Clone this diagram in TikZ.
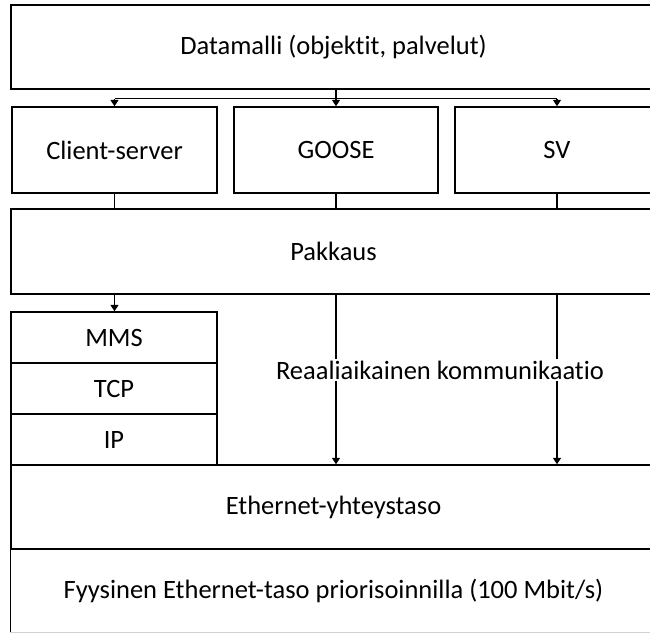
\documentclass[tikz,border=0pt]{standalone}
\usepackage{fontspec}
\setmainfont{Carlito}[RawFeature={-liga}]
\usetikzlibrary{arrows.meta}
\begin{document}
\begin{tikzpicture}[x=1bp,y=-1bp,
  layer/.style={draw=black, line width=1.4bp, inner sep=0pt, font=\fontsize{26.5bp}{30bp}\selectfont, text=black},
  conn/.style={draw=black, line width=1.4bp},
  arr/.style={conn, -{Triangle[length=6.5bp,width=8bp]}},
  lbl/.style={fill=white, inner sep=2bp, font=\fontsize{26.5bp}{30bp}\selectfont, text=black}]
\useasboundingbox (0,0) rectangle (650,635);
\clip (0,0) rectangle (650,635);
\fill[white] (0,0) rectangle (650,635);
% layers
\node[layer, minimum width=645bp, minimum height=84bp] (data) at (333.5,47) {Datamalli (objektit, palvelut)};
\node[layer, minimum width=205bp, minimum height=86bp] (cs) at (114.5,150) {Client-server};
\node[layer, minimum width=204bp, minimum height=86bp] (goose) at (336,150) {GOOSE};
\node[layer, minimum width=204bp, minimum height=86bp] (sv) at (557,150) {SV};
\node[layer, minimum width=645bp, minimum height=85bp] (pak) at (333.5,251.5) {Pakkaus};
\node[layer, minimum width=206bp, minimum height=51bp] (mms) at (114,337.5) {MMS};
\node[layer, minimum width=206bp, minimum height=51bp] (tcp) at (114,388.5) {TCP};
\node[layer, minimum width=206bp, minimum height=51bp] (ip) at (114,439.5) {IP};
\node[layer, minimum width=645bp, minimum height=84bp] (eth) at (333.5,507) {Ethernet-yhteystaso};
\node[layer, draw=none, minimum width=645bp, minimum height=83bp] (fys) at (333.5,590.5) {Fyysinen Ethernet-taso priorisoinnilla (100 Mbit/s)};
\draw[conn] (fys.north west) -- (fys.south west);
\draw[draw=black!18, line width=1.2bp] (fys.south west) -- (fys.south east);
% connectors from data model
\draw[conn] (data.south -| goose.north) -- ++(0,9) coordinate (hub);
\draw[conn] (hub -| cs.north) -- (hub -| sv.north);
\draw[arr] (hub -| cs.north) -- (cs.north);
\draw[arr] (hub) -- (goose.north);
\draw[arr] (hub -| sv.north) -- (sv.north);
% to Pakkaus
\draw[conn] (cs.south) -- (cs.south |- pak.north);
\draw[conn] (goose.south) -- (goose.south |- pak.north);
\draw[conn] (sv.south) -- (sv.south |- pak.north);
% from Pakkaus
\draw[arr] (cs.south |- pak.south) -- (mms.north -| cs.south);
\draw[arr] (goose.south |- pak.south) -- (goose.south |- eth.north);
\draw[arr] (sv.south |- pak.south) -- (sv.south |- eth.north);
\node[lbl] (rt) at (440,370) {Reaaliaikainen kommunikaatio};
\end{tikzpicture}
\end{document}
